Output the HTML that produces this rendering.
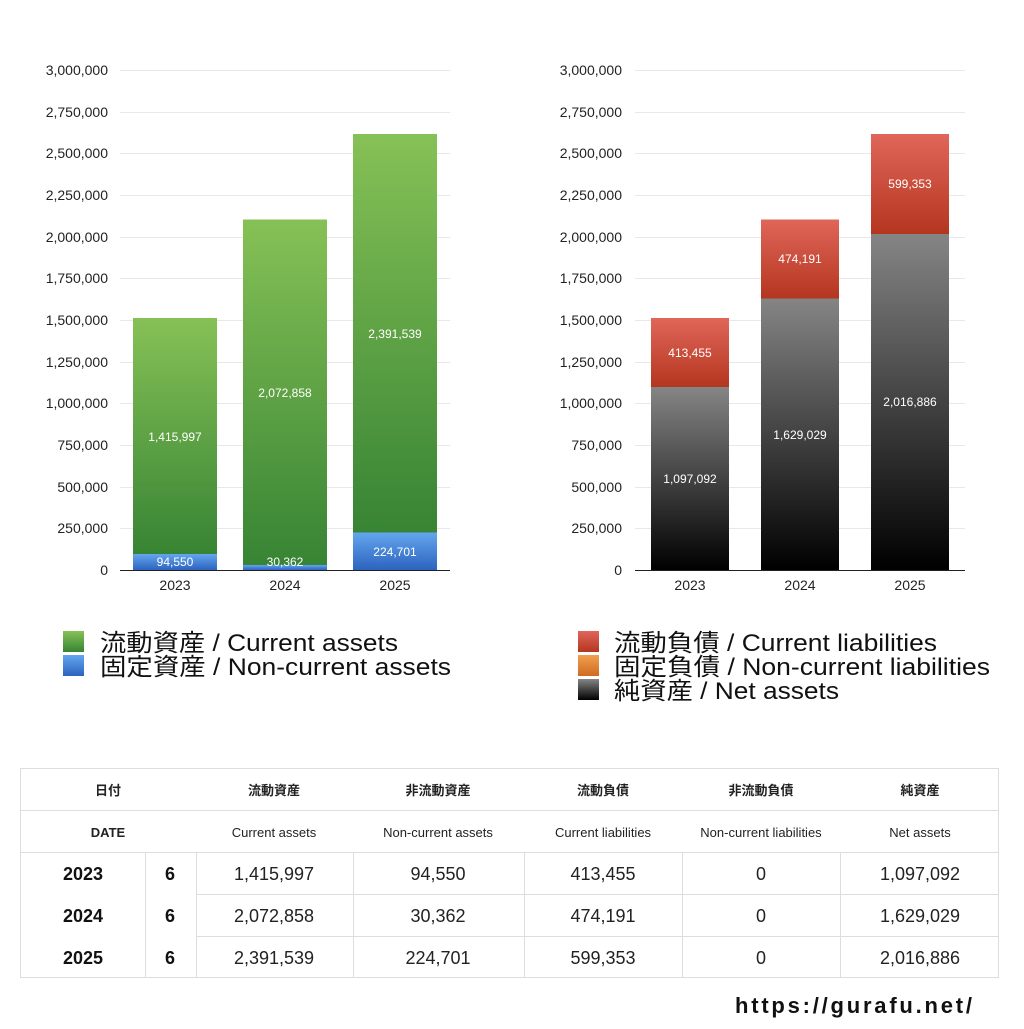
<!DOCTYPE html>
<html><head><meta charset="utf-8"><style>
body{margin:0;background:#fff;}
svg text{font-family:"Liberation Sans","Noto Sans CJK JP",sans-serif;}
</style></head><body>
<svg width="1024" height="1024" viewBox="0 0 1024 1024" xmlns="http://www.w3.org/2000/svg">
<defs>
<linearGradient id="g" x1="0" y1="0" x2="0" y2="1"><stop offset="0" stop-color="#86c156"/><stop offset="1" stop-color="#378434"/></linearGradient>
<linearGradient id="b" x1="0" y1="0" x2="0" y2="1"><stop offset="0" stop-color="#64a6ee"/><stop offset="1" stop-color="#2c63bf"/></linearGradient>
<linearGradient id="r" x1="0" y1="0" x2="0" y2="1"><stop offset="0" stop-color="#e0665a"/><stop offset="1" stop-color="#b5361f"/></linearGradient>
<linearGradient id="k" x1="0" y1="0" x2="0" y2="1"><stop offset="0" stop-color="#858585"/><stop offset="1" stop-color="#000"/></linearGradient>
<linearGradient id="o" x1="0" y1="0" x2="0" y2="1"><stop offset="0" stop-color="#f0a050"/><stop offset="1" stop-color="#d06a20"/></linearGradient>
</defs>
<g stroke="#e8e8e8" stroke-width="1">
<line x1="120" y1="70.5" x2="450" y2="70.5"/><line x1="120" y1="112.5" x2="450" y2="112.5"/><line x1="120" y1="153.5" x2="450" y2="153.5"/><line x1="120" y1="195.5" x2="450" y2="195.5"/><line x1="120" y1="237.5" x2="450" y2="237.5"/><line x1="120" y1="278.5" x2="450" y2="278.5"/><line x1="120" y1="320.5" x2="450" y2="320.5"/><line x1="120" y1="362.5" x2="450" y2="362.5"/><line x1="120" y1="403.5" x2="450" y2="403.5"/><line x1="120" y1="445.5" x2="450" y2="445.5"/><line x1="120" y1="487.5" x2="450" y2="487.5"/><line x1="120" y1="528.5" x2="450" y2="528.5"/>
<line x1="635" y1="70.5" x2="965" y2="70.5"/><line x1="635" y1="112.5" x2="965" y2="112.5"/><line x1="635" y1="153.5" x2="965" y2="153.5"/><line x1="635" y1="195.5" x2="965" y2="195.5"/><line x1="635" y1="237.5" x2="965" y2="237.5"/><line x1="635" y1="278.5" x2="965" y2="278.5"/><line x1="635" y1="320.5" x2="965" y2="320.5"/><line x1="635" y1="362.5" x2="965" y2="362.5"/><line x1="635" y1="403.5" x2="965" y2="403.5"/><line x1="635" y1="445.5" x2="965" y2="445.5"/><line x1="635" y1="487.5" x2="965" y2="487.5"/><line x1="635" y1="528.5" x2="965" y2="528.5"/>
</g>
<g font-size="14" fill="#222" text-anchor="end">
<text x="108" y="75">3,000,000</text><text x="108" y="117">2,750,000</text><text x="108" y="158">2,500,000</text><text x="108" y="200">2,250,000</text><text x="108" y="242">2,000,000</text><text x="108" y="283">1,750,000</text><text x="108" y="325">1,500,000</text><text x="108" y="367">1,250,000</text><text x="108" y="408">1,000,000</text><text x="108" y="450">750,000</text><text x="108" y="492">500,000</text><text x="108" y="533">250,000</text><text x="108" y="575">0</text>
<text x="622" y="75">3,000,000</text><text x="622" y="117">2,750,000</text><text x="622" y="158">2,500,000</text><text x="622" y="200">2,250,000</text><text x="622" y="242">2,000,000</text><text x="622" y="283">1,750,000</text><text x="622" y="325">1,500,000</text><text x="622" y="367">1,250,000</text><text x="622" y="408">1,000,000</text><text x="622" y="450">750,000</text><text x="622" y="492">500,000</text><text x="622" y="533">250,000</text><text x="622" y="575">0</text>
</g>
<rect x="133" y="318" width="84" height="236" fill="url(#g)"/><rect x="133" y="554" width="84" height="16" fill="url(#b)"/>
<rect x="243" y="219.5" width="84" height="345.5" fill="url(#g)"/><rect x="243" y="565" width="84" height="5" fill="url(#b)"/>
<rect x="353" y="134" width="84" height="398.5" fill="url(#g)"/><rect x="353" y="532.5" width="84" height="37.5" fill="url(#b)"/>
<rect x="651" y="318" width="78" height="69" fill="url(#r)"/><rect x="651" y="387" width="78" height="183" fill="url(#k)"/>
<rect x="761" y="219.5" width="78" height="79" fill="url(#r)"/><rect x="761" y="298.5" width="78" height="271.5" fill="url(#k)"/>
<rect x="871" y="134" width="78" height="100" fill="url(#r)"/><rect x="871" y="234" width="78" height="336" fill="url(#k)"/>
<line x1="120" y1="570.5" x2="450" y2="570.5" stroke="#222"/>
<line x1="635" y1="570.5" x2="965" y2="570.5" stroke="#222"/>
<g font-size="12" fill="#fff" text-anchor="middle">
<text x="175" y="441">1,415,997</text><text x="175" y="566">94,550</text>
<text x="285" y="397">2,072,858</text><text x="285" y="566">30,362</text>
<text x="395" y="338">2,391,539</text><text x="395" y="556">224,701</text>
<text x="690" y="357">413,455</text><text x="690" y="483">1,097,092</text>
<text x="800" y="263">474,191</text><text x="800" y="439">1,629,029</text>
<text x="910" y="188">599,353</text><text x="910" y="406">2,016,886</text>
</g>
<g font-size="14" fill="#222" text-anchor="middle">
<text x="175" y="590">2023</text><text x="285" y="590">2024</text><text x="395" y="590">2025</text>
<text x="690" y="590">2023</text><text x="800" y="590">2024</text><text x="910" y="590">2025</text>
</g>
<rect x="63" y="631" width="21" height="21" fill="url(#g)"/><rect x="63" y="655" width="21" height="21" fill="url(#b)"/>
<g font-size="24" fill="#111">
<text x="100" y="651" textLength="298" lengthAdjust="spacingAndGlyphs">流動資産 / Current assets</text>
<text x="100" y="675" textLength="351" lengthAdjust="spacingAndGlyphs">固定資産 / Non-current assets</text>
<text x="614" y="651" textLength="323" lengthAdjust="spacingAndGlyphs">流動負債 / Current liabilities</text>
<text x="614" y="675" textLength="376" lengthAdjust="spacingAndGlyphs">固定負債 / Non-current liabilities</text>
<text x="614" y="699" textLength="225" lengthAdjust="spacingAndGlyphs">純資産 / Net assets</text>
</g>
<rect x="578" y="631" width="21" height="21" fill="url(#r)"/><rect x="578" y="655" width="21" height="21" fill="url(#o)"/><rect x="578" y="679" width="21" height="21" fill="url(#k)"/>
<g stroke="#ddd" stroke-width="1" fill="none">
<rect x="20.5" y="768.5" width="978" height="209"/>
<line x1="20" y1="810.5" x2="999" y2="810.5"/><line x1="20" y1="852.5" x2="999" y2="852.5"/>
<line x1="196" y1="894.5" x2="999" y2="894.5"/><line x1="196" y1="936.5" x2="999" y2="936.5"/>
<line x1="145.5" y1="852" x2="145.5" y2="978"/><line x1="196.5" y1="852" x2="196.5" y2="978"/><line x1="353.5" y1="852" x2="353.5" y2="978"/><line x1="524.5" y1="852" x2="524.5" y2="978"/><line x1="682.5" y1="852" x2="682.5" y2="978"/><line x1="840.5" y1="852" x2="840.5" y2="978"/>
</g>
<g font-size="13" font-weight="bold" fill="#222" text-anchor="middle">
<text x="108" y="795">日付</text><text x="274" y="795">流動資産</text><text x="438" y="795">非流動資産</text><text x="603" y="795">流動負債</text><text x="761" y="795">非流動負債</text><text x="920" y="795">純資産</text>
</g>
<g font-size="13" fill="#222" text-anchor="middle">
<text x="108" y="837" font-weight="bold">DATE</text><text x="274" y="837">Current assets</text><text x="438" y="837">Non-current assets</text><text x="603" y="837">Current liabilities</text><text x="761" y="837">Non-current liabilities</text><text x="920" y="837">Net assets</text>
</g>
<g font-size="18" font-weight="bold" fill="#111" text-anchor="middle">
<text x="83" y="880">2023</text><text x="170" y="880">6</text>
<text x="83" y="922">2024</text><text x="170" y="922">6</text>
<text x="83" y="964">2025</text><text x="170" y="964">6</text>
</g>
<g font-size="18" fill="#222" text-anchor="middle">
<text x="274" y="880">1,415,997</text><text x="438" y="880">94,550</text><text x="603" y="880">413,455</text><text x="761" y="880">0</text><text x="920" y="880">1,097,092</text>
<text x="274" y="922">2,072,858</text><text x="438" y="922">30,362</text><text x="603" y="922">474,191</text><text x="761" y="922">0</text><text x="920" y="922">1,629,029</text>
<text x="274" y="964">2,391,539</text><text x="438" y="964">224,701</text><text x="603" y="964">599,353</text><text x="761" y="964">0</text><text x="920" y="964">2,016,886</text>
</g>
<text x="735" y="1013" font-size="22" font-weight="bold" fill="#111" textLength="237" lengthAdjust="spacing">https://gurafu.net/</text>
</svg>
</body></html>
